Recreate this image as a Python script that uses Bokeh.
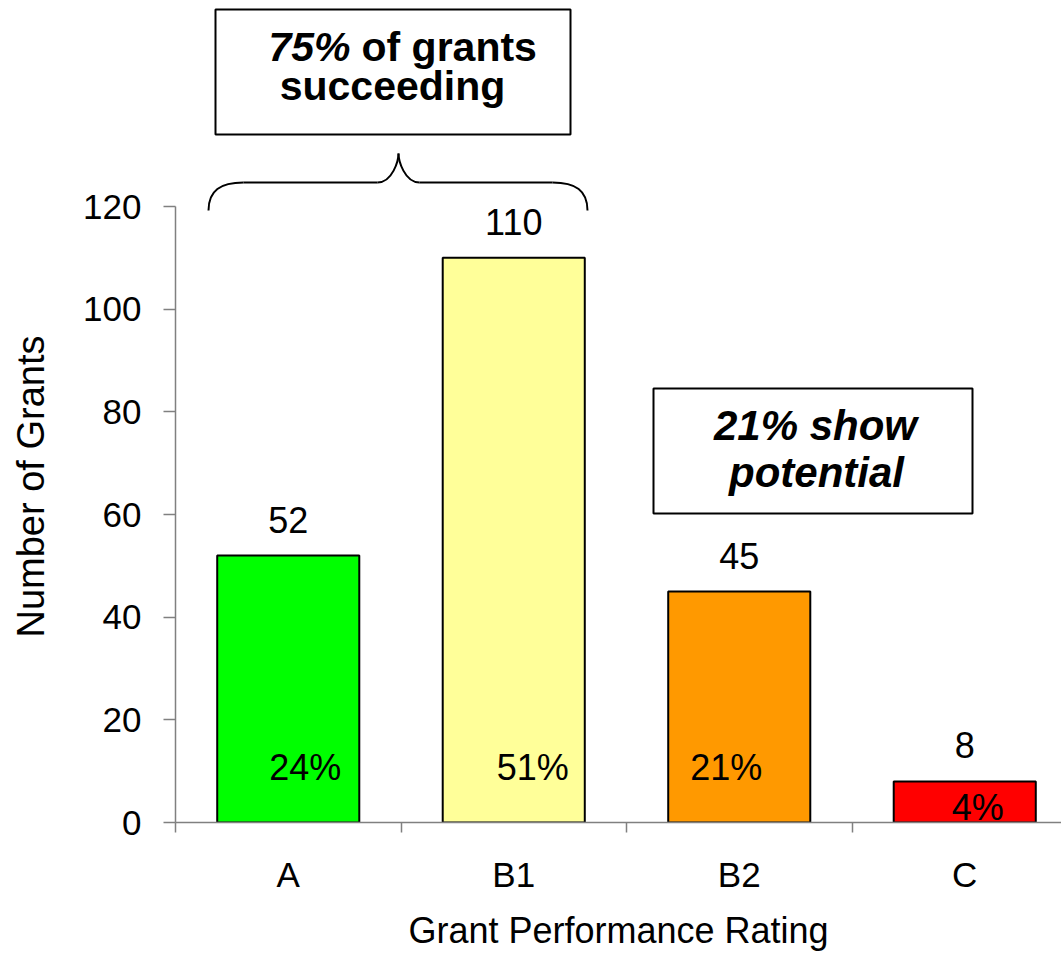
from bokeh.plotting import figure
from bokeh.layouts import column
from bokeh.models import FixedTicker, Range1d
from bokeh.embed import file_html
from bokeh.resources import INLINE
from bokeh.core.properties import value

# ---- data ----
categories = ["A", "B1", "B2", "C"]
grants = [52, 110, 45, 8]
percents = [24, 51, 21, 4]
bar_colors = ["#00FF00", "#FFFF99", "#FF9900", "#FF0000"]
y_ticks = [0, 20, 40, 60, 80, 100, 120]
x_title = "Grant Performance Rating"
y_title = "Number of Grants"

# ---- layout constants (pixels) ----
W, H = 1061, 955
TOP_H = 150                 # height of the callout strip above the chart
FL, FB = 175, 822           # frame left / frame bottom (page pixels)
CAT_PX = 225.5
Y_PX = (822 - 206) / 120.0
x_end = (W - FL) / CAT_PX
y_end = (FB - TOP_H) / Y_PX
FONT = value("Liberation Sans")
BL = 13  # baseline correction (px)


def px2x(px):
    return (px - FL) / CAT_PX


def px2y(py):
    return (FB - py) / Y_PX


# ---------------- top strip: "75% of grants succeeding" ----------------
# (its frame is aligned with the chart frame, so it spans page x = FL..W)
top = figure(width=W, height=TOP_H, x_range=Range1d(FL, W), y_range=Range1d(TOP_H, 0),
             output_backend="svg", toolbar_location=None,
             x_axis_location=None, y_axis_location=None,
             min_border=0)
top.title.visible = False
top.outline_line_color = None
top.xgrid.visible = False
top.ygrid.visible = False
top.quad(left=[215], right=[570], top=[9], bottom=[134],
         fill_color="white", line_color="black", line_width=2)
FS1 = "41px"
top.text(x=[350], y=[59 - BL], text=["75%"], text_align="right",
         text_baseline="alphabetic", text_font=FONT, text_font_size=FS1,
         text_font_style="bold italic", text_color="black")
top.text(x=[361], y=[59 - BL], text=["of grants"], text_align="left",
         text_baseline="alphabetic", text_font=FONT, text_font_size=FS1,
         text_font_style="bold", text_color="black")
top.text(x=[392], y=[98 - BL], text=["succeeding"], text_align="center",
         text_baseline="alphabetic", text_font=FONT, text_font_size=FS1,
         text_font_style="bold", text_color="black")

# ---------------- main chart ----------------
p = figure(width=W, height=H - TOP_H, x_range=Range1d(0, x_end), y_range=Range1d(0, y_end),
           output_backend="svg", toolbar_location=None,
           min_border_left=FL, min_border_right=0, min_border_top=0,
           min_border_bottom=H - FB)
p.title.visible = False
p.outline_line_color = None
p.xgrid.visible = False
p.ygrid.visible = False
p.background_fill_color = "white"
p.border_fill_color = "white"

xs = [i + 0.5 for i in range(len(categories))]

# bars
p.vbar(x=xs, top=grants, width=0.63, bottom=0, fill_color=bar_colors,
       line_color="black", line_width=2)

# value labels above bars
p.text(x=xs, y=grants, text=[str(v) for v in grants], y_offset=-23 - BL,
       text_align="center", text_baseline="alphabetic",
       text_font=FONT, text_font_size="36px", text_color="black")

# percent labels inside bars
pct_dx = [17, 19, -13, 13]
pct_dy = [-42 - BL, -42 - BL, -42 - BL, -2 - BL]
p.text(x=xs, y=[0] * len(xs), text=[f"{v}%" for v in percents],
       x_offset=pct_dx, y_offset=pct_dy,
       text_align="center", text_baseline="alphabetic",
       text_font=FONT, text_font_size="36px", text_color="black")

# axes
AX = "#808080"
xa = p.xaxis[0]
xa.ticker = FixedTicker(ticks=xs, minor_ticks=list(range(len(categories) + 1)))
xa.major_label_overrides = {x: c for x, c in zip(xs, categories)}
xa.major_tick_line_color = None
xa.major_tick_out = 10
xa.major_tick_in = 0
xa.minor_tick_line_color = AX
xa.minor_tick_out = 10
xa.minor_tick_in = 0
xa.minor_tick_line_width = 1.5
xa.axis_line_color = AX
xa.axis_line_width = 1.5
xa.major_label_standoff = 22
xa.major_label_text_font = "Liberation Sans"
xa.major_label_text_font_size = "35px"
xa.major_label_text_color = "black"
xa.axis_label = x_title
xa.axis_label_text_font = "Liberation Sans"
xa.axis_label_text_font_style = "normal"
xa.axis_label_text_font_size = "36px"
xa.axis_label_text_color = "black"
xa.axis_label_standoff = 13

ya = p.yaxis[0]
ya.ticker = FixedTicker(ticks=y_ticks, minor_ticks=[])
ya.bounds = (0, 120)
ya.major_tick_line_color = AX
ya.major_tick_line_width = 1.5
ya.major_tick_out = 12
ya.major_tick_in = 0
ya.axis_line_color = AX
ya.axis_line_width = 1.5
ya.major_label_standoff = 22
ya.major_label_text_font = "Liberation Sans"
ya.major_label_text_font_size = "35px"
ya.major_label_text_color = "black"
ya.axis_label = y_title
ya.axis_label_text_font = "Liberation Sans"
ya.axis_label_text_font_style = "normal"
ya.axis_label_text_font_size = "38px"
ya.axis_label_text_color = "black"
ya.axis_label_standoff = 28

# "21% show potential" callout
p.quad(left=[px2x(653)], right=[px2x(972)], top=[px2y(388)], bottom=[px2y(513)],
       fill_color="white", line_color="black", line_width=2)
FS2 = "42px"
p.text(x=[px2x(815), px2x(816)], y=[px2y(438 - BL), px2y(485 - BL)],
       text=["21% show", "potential"], text_align="center",
       text_baseline="alphabetic", text_font=FONT, text_font_size=FS2,
       text_font_style="bold italic", text_color="black")

# brace over A and B1
by, ey, ay = 182, 210, 153
lx, rx, cx = 208, 587, 398
p.bezier(x0=[px2x(lx), px2x(cx - 21), px2x(cx), px2x(rx - 35)],
         y0=[px2y(ey), px2y(by), px2y(ay), px2y(by)],
         x1=[px2x(lx + 35), px2x(cx), px2x(cx + 21), px2x(rx)],
         y1=[px2y(by), px2y(ay), px2y(by), px2y(ey)],
         cx0=[px2x(lx), px2x(cx - 6), px2x(cx), px2x(rx - 12)],
         cy0=[px2y(by + 8), px2y(by), px2y(by - 22), px2y(by)],
         cx1=[px2x(lx + 12), px2x(cx), px2x(cx + 6), px2x(rx)],
         cy1=[px2y(by), px2y(by - 22), px2y(by), px2y(by + 8)],
         line_color="black", line_width=2)
p.segment(x0=[px2x(lx + 35), px2x(cx + 21)], y0=[px2y(by), px2y(by)],
          x1=[px2x(cx - 21), px2x(rx - 35)], y1=[px2y(by), px2y(by)],
          line_color="black", line_width=2)

layout = column(top, p, spacing=0)
open("out.html", "w").write(file_html(layout, INLINE))
